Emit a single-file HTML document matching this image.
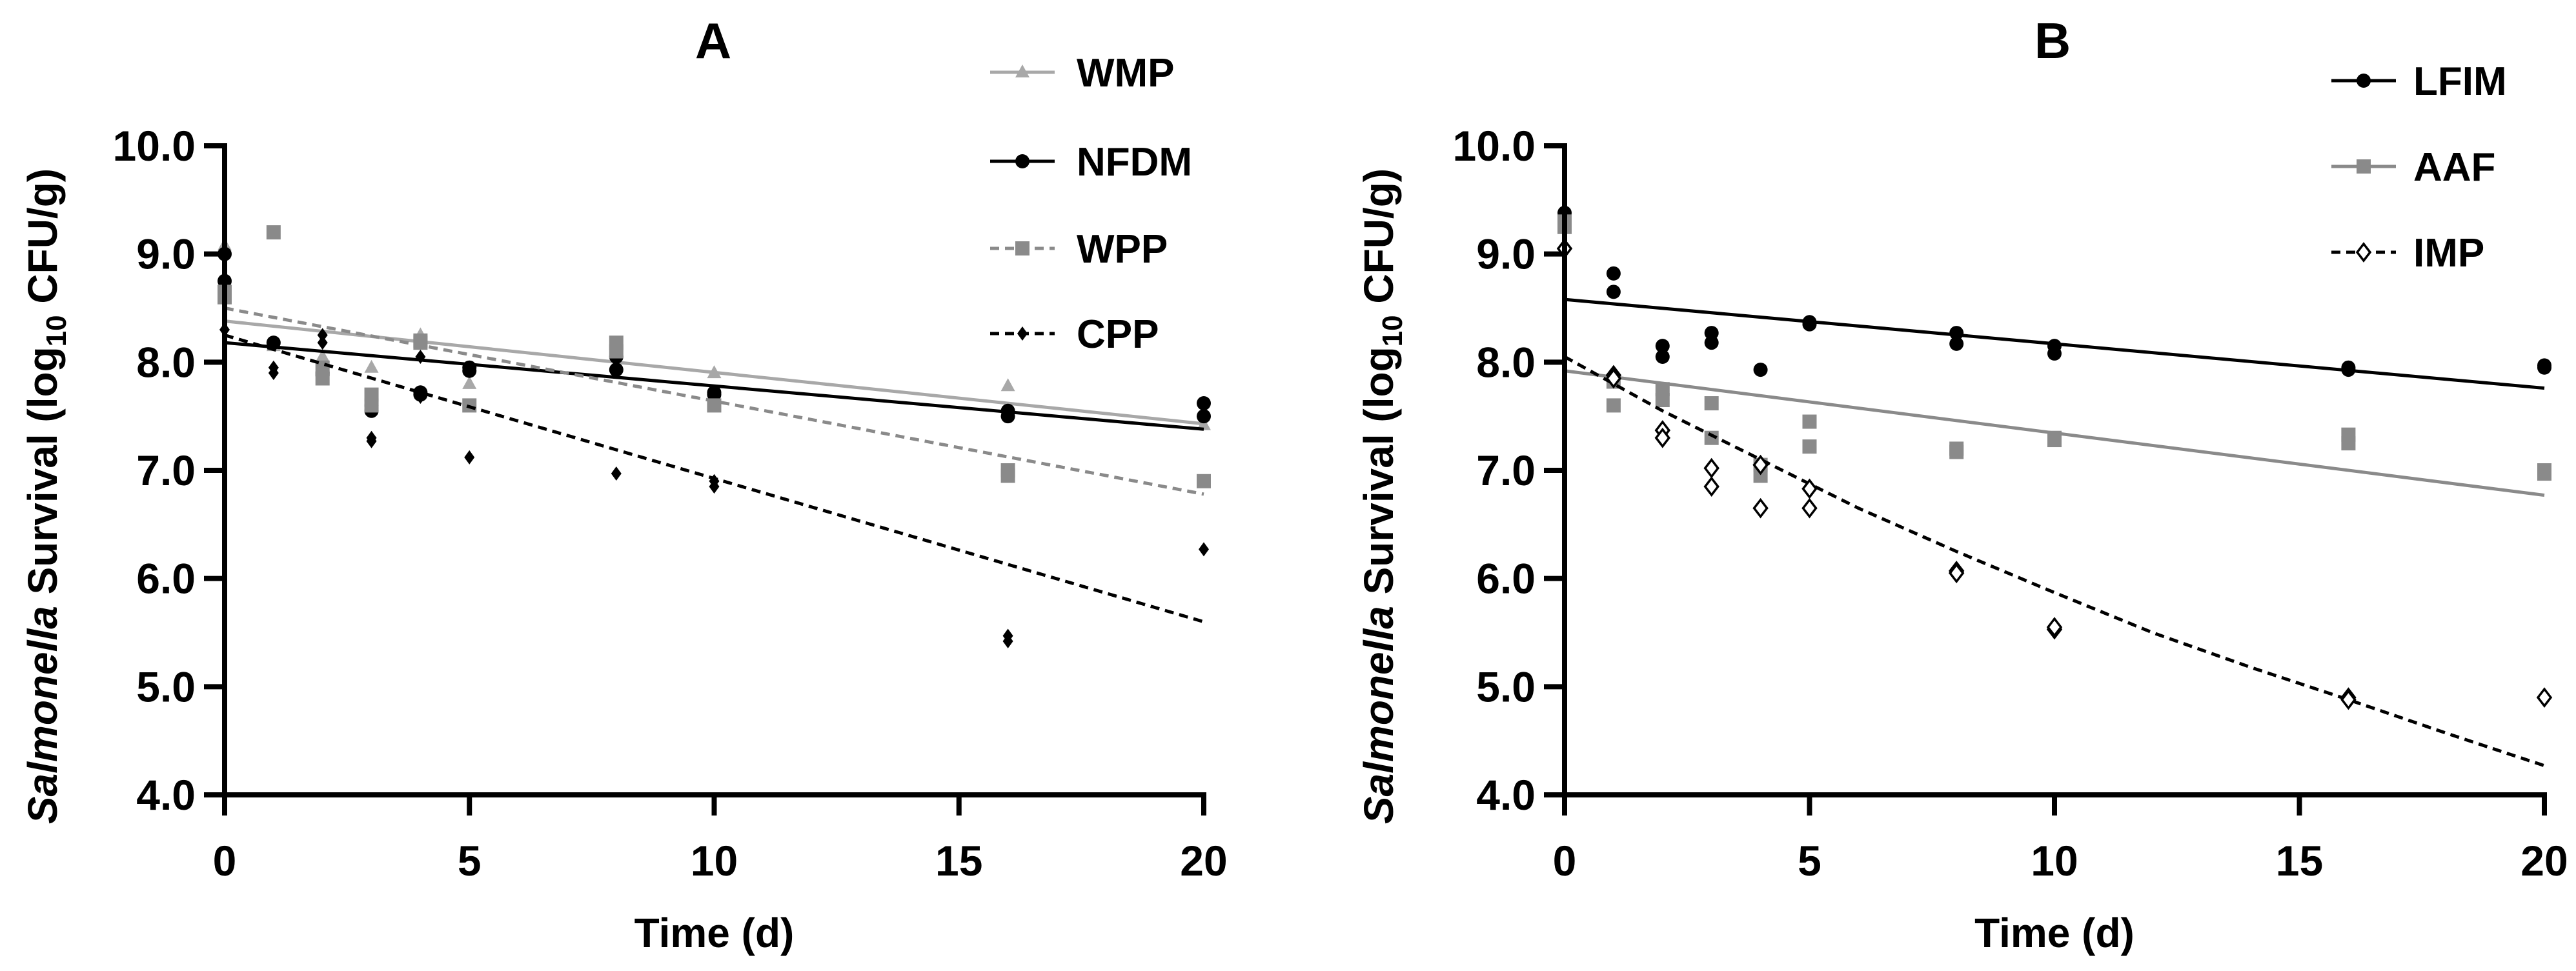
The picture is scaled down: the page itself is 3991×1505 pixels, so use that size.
<!DOCTYPE html>
<html><head><meta charset="utf-8"><style>
html,body{margin:0;padding:0;background:#fff;}
svg{display:block;font-family:"Liberation Sans",Arial,sans-serif;font-weight:bold;}
</style></head><body>
<svg id="chart" width="3991" height="1505" viewBox="0 0 3991 1505" xmlns="http://www.w3.org/2000/svg"></svg>
<script>
const xTicks=[0,5,10,15,20];
const yTicks=[4,5,6,7,8,9,10];
const yTickLabels=["4.0","5.0","6.0","7.0","8.0","9.0","10.0"];
// Panel A data
const days=[0,1,2,3,4,5,8,10,16,20];
const wmpVals=[[9.08],[8.15],[8.05],[7.95],[8.25],[7.8],[8.15],[7.9],[7.78],[7.42]];
const nfdmVals=[[9.0,8.75],[8.18],[7.9,7.88],[7.55,7.6],[7.7,7.72],[7.95,7.92],[7.93,8.05],[7.7,7.72],[7.55,7.5],[7.62,7.5]];
const wppVals=[[8.65,8.6],[9.2],[7.85,7.95],[7.7,7.6],[8.2,8.18],[7.6],[8.18,8.1],[7.6],[7.0,6.95],[6.9]];
const cppVals=[[8.3],[7.9,7.95],[8.25,8.18],[7.3,7.27],[8.05,7.68],[7.12],[6.97],[6.9,6.85],[5.47,5.42],[6.27]];
const wmpFit=[8.38,7.43];
const nfdmFit=[8.18,7.38];
const wppFit=[8.5,6.78];
const cppFit=[8.25,5.6];
// Panel B data
const lfimVals=[[9.38,9.35],[8.82,8.65],[8.15,8.05],[8.27,8.18],[7.93],[8.35,8.37],[8.27,8.17],[8.15,8.08],[7.93,7.95],[7.97,7.95]];
const aafVals=[[9.3,9.25],[7.82,7.6],[7.75,7.65],[7.62,7.3],[7.05,6.95],[7.45,7.22],[7.2,7.17],[7.3,7.28],[7.33,7.25],[7.0,6.97]];
const impVals=[[9.05],[7.88,7.85],[7.37,7.3],[7.02,6.85],[6.65,7.05],[6.83,6.65],[6.07,6.05],[5.53,5.55],[4.9,4.88],[4.9]];
const lfimFit=[8.58,7.76];
const aafFit=[7.92,6.77];
const impCurveX=[0,2,4,6,8,10,12,14,16,18,20];
const impCurveY=[8.05,7.55,7.1,6.65,6.25,5.87,5.5,5.18,4.88,4.57,4.27];

const NS="http://www.w3.org/2000/svg";
const svg=document.getElementById('chart');
function mk(tag,attrs,parent){const e=document.createElementNS(NS,tag);for(const k in attrs)e.setAttribute(k,attrs[k]);(parent||svg).appendChild(e);return e;}
function txt(s,attrs,parent){const e=mk('text',attrs,parent);e.textContent=s;return e;}

function marker(g,type,cx,cy,col){
  let e;
  if(type==='tri') e=mk('polygon',{points:`${cx},${cy-12} ${cx+11},${cy+8} ${cx-11},${cy+8}`,fill:col},g);
  else if(type==='circ') e=mk('circle',{cx:cx,cy:cy,r:11,fill:col},g);
  else if(type==='sq') e=mk('rect',{x:cx-11,y:cy-11,width:22,height:22,fill:col},g);
  else if(type==='dia') e=mk('polygon',{points:`${cx},${cy-11} ${cx+8},${cy} ${cx},${cy+11} ${cx-8},${cy}`,fill:col},g);
  else if(type==='odia') e=mk('polygon',{points:`${cx},${cy-13} ${cx+10},${cy} ${cx},${cy+13} ${cx-10},${cy}`,fill:'#fff',stroke:'#000','stroke-width':3.5},g);
  return e;
}

function panel(P){
  const g=mk('g',{});
  
  
  const X=v=>P.x0+(P.x1-P.x0)*v/20;
  const Y=v=>P.y0-(P.y0-P.y1)*(v-4)/6;
  const t=txt(P.title,{x:P.titleX,y:90,'font-size':78,'text-anchor':'middle'},g);
  
  
  P.series.forEach(s=>{
    const sg=mk('g',{},g);
    
    
    let pts;
    if(s.curveX) pts=s.curveX.map((x,i)=>X(x)+','+Y(s.curveY[i])).join(' ');
    else pts=X(0)+','+Y(s.fit[0])+' '+X(20)+','+Y(s.fit[1]);
    const ln=mk('polyline',{points:pts,fill:'none',stroke:s.lineCol,'stroke-width':5,'stroke-dasharray':s.dash?'14,9':'none'},sg);
    
    
    days.forEach((d,i)=>{s.vals[i].forEach(v=>{
      const m=marker(sg,s.marker,X(d),Y(v),s.col);
      
      
    });});
    const lg=mk('g',{},g);
    
    
    mk('line',{x1:P.legX,x2:P.legX+100,y1:s.legY,y2:s.legY,stroke:s.lineCol,'stroke-width':5,'stroke-dasharray':s.dash?'14,9':'none'},lg);
    marker(lg,s.marker,P.legX+50,s.legY,s.col);
    txt(s.label,{x:P.legTX,y:s.legY+22,'font-size':62},lg);
  });
  const ax=mk('g',{},g);
  
  
  mk('line',{x1:P.x0,x2:P.x0,y1:P.y1-4,y2:P.y0+32,stroke:'#000','stroke-width':8},ax);
  mk('line',{x1:P.x0-32,x2:P.x1+4,y1:P.y0,y2:P.y0,stroke:'#000','stroke-width':8},ax);
  yTicks.forEach((v,i)=>{
    mk('line',{x1:P.x0-32,x2:P.x0,y1:Y(v),y2:Y(v),stroke:'#000','stroke-width':8},ax);
    const l=txt(yTickLabels[i],{x:P.x0-45,y:Y(v)+23,'font-size':66,'text-anchor':'end'},ax);
    
    
  });
  xTicks.forEach(v=>{
    mk('line',{x1:X(v),x2:X(v),y1:P.y0,y2:P.y0+32,stroke:'#000','stroke-width':8},ax);
    const l=txt(String(v),{x:X(v),y:P.y0+125,'font-size':66,'text-anchor':'middle'},ax);
    
    
  });
  const xt=txt('Time (d)',{x:(P.x0+P.x1)/2,y:1468,'font-size':64,'text-anchor':'middle'},g);
  
  
  const yt=mk('text',{x:0,y:0,'font-size':64,'text-anchor':'middle',transform:`translate(${P.yTitleX},${(P.y0+P.y1)/2+40}) rotate(-90)`},g);
  
  
  yt.innerHTML='<tspan font-style="italic">Salmonella</tspan> Survival (log<tspan font-size="44" dy="14">10</tspan><tspan dy="-14"> CFU/g)</tspan>';
}

panel({name:'panel-a',title:'A',titleX:1105,x0:348,x1:1865,y0:1232,y1:226,yTitleX:88,legX:1534,legTX:1668,
series:[
 {label:'WMP',vals:wmpVals,fit:wmpFit,marker:'tri',col:'#a8a8a8',lineCol:'#a8a8a8',dash:false,legY:112},
 {label:'NFDM',vals:nfdmVals,fit:nfdmFit,marker:'circ',col:'#000',lineCol:'#000',dash:false,legY:250},
 {label:'WPP',vals:wppVals,fit:wppFit,marker:'sq',col:'#8a8a8a',lineCol:'#8a8a8a',dash:true,legY:385},
 {label:'CPP',vals:cppVals,fit:cppFit,marker:'dia',col:'#000',lineCol:'#000',dash:true,legY:517}
]});
panel({name:'panel-b',title:'B',titleX:3180,x0:2424,x1:3942,y0:1232,y1:226,yTitleX:2158,legX:3612,legTX:3739,
series:[
 {label:'LFIM',vals:lfimVals,fit:lfimFit,marker:'circ',col:'#000',lineCol:'#000',dash:false,legY:125},
 {label:'AAF',vals:aafVals,fit:aafFit,marker:'sq',col:'#8a8a8a',lineCol:'#8a8a8a',dash:false,legY:258},
 {label:'IMP',vals:impVals,curveX:impCurveX,curveY:impCurveY,marker:'odia',col:'#fff',lineCol:'#000',dash:true,legY:391}
]});
</script>
</body></html>
